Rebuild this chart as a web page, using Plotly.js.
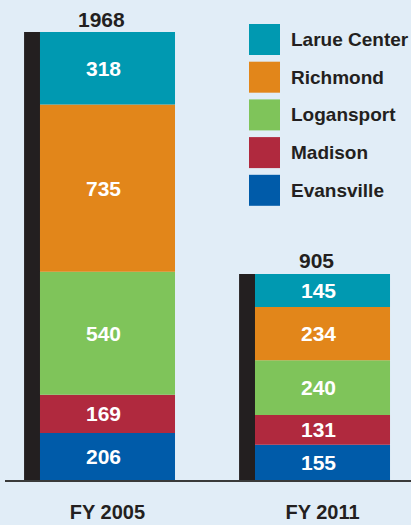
<!DOCTYPE html>
<html>
<head>
<meta charset="utf-8">
<script src="https://cdn.plot.ly/plotly-3.0.1.min.js"></script>
<style>
html,body{margin:0;padding:0;background:#e1edf7;}
#chart{width:411px;height:525px;}
</style>
</head>
<body>
<div id="chart"></div>
<script>
// ---- data ----
const categories = ['FY 2005', 'FY 2011'];
const evansville = [206, 155];
const madison = [169, 131];
const logansport = [540, 240];
const richmond = [735, 234];
const larueCenter = [318, 145];
const totals = [1968, 905];
// stacking order bottom -> top
const seriesNames = ['Evansville', 'Madison', 'Logansport', 'Richmond', 'Larue Center'];
const seriesValues = [evansville, madison, logansport, richmond, larueCenter];
const seriesColors = ['#005ba9', '#b0293e', '#7fc45a', '#e2861a', '#0099b1'];

// ---- layout geometry (pixels) ----
const W = 411, H = 525;
const mL = 5, mR = 0, mT = 0, mB = 45;
const plotW = W - mL - mR, plotH = H - mT - mB;
const pxX = p => (p - mL) / plotW;
const pxY = p => (H - mB - p) / plotH;

const FONT = '"Liberation Sans", Arial, sans-serif';
const dark = '#231f20';

const traces = [];
const annotations = [];
const shapes = [];

// shadow strips
traces.push({
  type: 'bar', x: categories, y: totals, base: [0, 0],
  width: 0.0744, offset: -0.388,
  marker: {color: dark, line: {width: 0}},
  showlegend: false, hoverinfo: 'skip'
});

const cum = categories.map(() => 0);
seriesValues.forEach((vals, s) => {
  const base = cum.slice();
  traces.push({
    type: 'bar', name: seriesNames[s], x: categories, y: vals, base: base,
    width: 0.628,
    marker: {color: seriesColors[s], line: {width: 0}},
    showlegend: false, hoverinfo: 'skip'
  });
  vals.forEach((v, i) => {
    annotations.push({
      x: categories[i], y: base[i] + v / 2, xref: 'x', yref: 'y',
      text: String(v), showarrow: false, xshift: -4,
      font: {family: FONT, size: 21, color: '#ffffff', weight: 'bold'}
    });
    cum[i] += v;
  });
});

// totals above bars
totals.forEach((t, i) => {
  annotations.push({
    x: categories[i], y: t, xref: 'x', yref: 'y',
    text: String(t), showarrow: false, yanchor: 'middle', yshift: 13, xshift: -6,
    font: {family: FONT, size: 21, color: dark, weight: 'bold'}
  });
});

// custom legend (top -> bottom: reverse stacking order)
const legTop = 24, legStep = 37.7, sq = 31, sqX = 249, txtX = 289;
for (let k = 0; k < seriesNames.length; k++) {
  const s = seriesNames.length - 1 - k;
  const y0 = legTop + k * legStep;
  shapes.push({
    type: 'rect', xref: 'paper', yref: 'paper',
    x0: pxX(sqX), x1: pxX(sqX + sq), y0: pxY(y0 + sq), y1: pxY(y0),
    fillcolor: seriesColors[s], line: {width: 0}
  });
  annotations.push({
    xref: 'paper', yref: 'paper', x: pxX(txtX), y: pxY(y0 + sq / 2),
    xanchor: 'left', yanchor: 'middle', showarrow: false,
    text: seriesNames[s],
    font: {family: FONT, size: 19, color: dark, weight: 'bold'}
  });
}

const layout = {
  width: W, height: H,
  margin: {l: mL, r: mR, t: mT, b: mB, pad: 0},
  paper_bgcolor: '#e1edf7', plot_bgcolor: '#e1edf7',
  barmode: 'overlay',
  showlegend: false,
  xaxis: {
    type: 'category', range: [-0.4767, 1.4116],
    showline: true, linecolor: '#3a3a3a', linewidth: 2,
    showgrid: false, zeroline: false, ticks: '',
    ticklabelstandoff: 13,
    tickfont: {family: FONT, size: 20, color: dark, weight: 'bold'}
  },
  yaxis: {
    range: [0, 2108.6], visible: false, showgrid: false, zeroline: false
  },
  annotations: annotations,
  shapes: shapes
};

Plotly.newPlot('chart', traces, layout, {staticPlot: true, displayModeBar: false});
</script>
</body>
</html>
